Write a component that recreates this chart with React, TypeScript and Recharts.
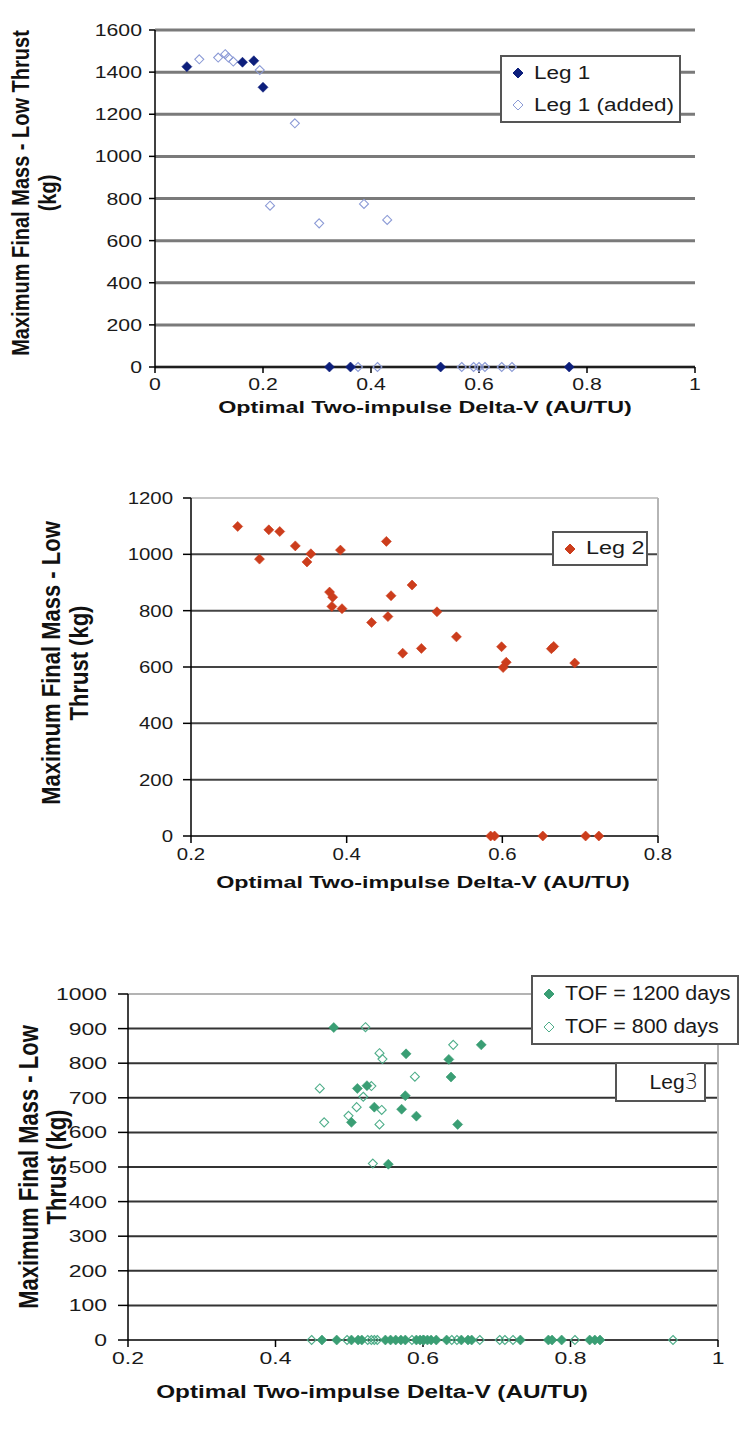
import React from 'react';
import { ScatterChart, Scatter, XAxis, YAxis, CartesianGrid, ReferenceLine } from 'recharts';

// Leg 1 (chart 1)
const leg1X = [0.059, 0.162, 0.183, 0.2, 0.323, 0.362, 0.529, 0.767];
const leg1Y = [1426, 1447, 1454, 1328, 0, 0, 0, 0];
const leg1AddedX = [0.082, 0.117, 0.13, 0.136, 0.145, 0.194, 0.259, 0.213, 0.304, 0.387, 0.43, 0.376, 0.412, 0.568, 0.59, 0.6, 0.611, 0.642, 0.661];
const leg1AddedY = [1461, 1469, 1485, 1469, 1450, 1410, 1157, 766, 682, 774, 698, 0, 0, 0, 0, 0, 0, 0, 0];

// Leg 2 (chart 2)
const leg2X = [0.26, 0.288, 0.3, 0.314, 0.334, 0.354, 0.349, 0.392, 0.451, 0.378, 0.382, 0.381, 0.394, 0.457, 0.484, 0.453, 0.432, 0.516, 0.541, 0.472, 0.496, 0.599, 0.605, 0.601, 0.663, 0.666, 0.693, 0.585, 0.59, 0.652, 0.707, 0.724];
const leg2Y = [1099, 983, 1087, 1081, 1030, 1002, 973, 1015, 1046, 866, 848, 815, 807, 853, 891, 779, 758, 796, 707, 649, 666, 672, 617, 598, 665, 673, 614, 0, 0, 0, 0, 0];

// Leg 3 (chart 3)
const tof1200X = [0.479, 0.679, 0.577, 0.635, 0.638, 0.511, 0.524, 0.576, 0.534, 0.571, 0.591, 0.503, 0.647, 0.553,
  0.463, 0.483, 0.503, 0.512, 0.517, 0.549, 0.556, 0.563, 0.57, 0.576, 0.591, 0.596, 0.601, 0.606, 0.611, 0.618, 0.632, 0.652, 0.661, 0.666, 0.732, 0.77, 0.775, 0.788, 0.826, 0.833, 0.84];
const tof1200Y = [903, 853, 827, 811, 760, 727, 735, 706, 673, 667, 647, 629, 623, 508,
  0, 0, 0, 0, 0, 0, 0, 0, 0, 0, 0, 0, 0, 0, 0, 0, 0, 0, 0, 0, 0, 0, 0, 0, 0, 0, 0];
const tof800X = [0.522, 0.641, 0.541, 0.545, 0.589, 0.46, 0.53, 0.519, 0.544, 0.51, 0.499, 0.466, 0.541, 0.532,
  0.449, 0.497, 0.525, 0.53, 0.534, 0.538, 0.585, 0.6, 0.639, 0.646, 0.677, 0.704, 0.711, 0.722, 0.806, 0.939];
const tof800Y = [904, 853, 829, 812, 761, 727, 734, 703, 665, 673, 648, 629, 623, 510,
  0, 0, 0, 0, 0, 0, 0, 0, 0, 0, 0, 0, 0, 0, 0, 0];

const ticks1X = [0, 0.2, 0.4, 0.6, 0.8, 1];
const ticks1Y = [0, 200, 400, 600, 800, 1000, 1200, 1400, 1600];
const ticks2X = [0.2, 0.4, 0.6, 0.8];
const ticks2Y = [0, 200, 400, 600, 800, 1000, 1200];
const ticks3X = [0.2, 0.4, 0.6, 0.8, 1];
const ticks3Y = [0, 100, 200, 300, 400, 500, 600, 700, 800, 900, 1000];

const xTitle = 'Optimal Two-impulse Delta-V (AU/TU)';
const FONT = '"Liberation Sans", Arial, sans-serif';

const zip = (xs: number[], ys: number[]) => xs.map((x, i) => ({ x, y: ys[i] }));

const diamond = (color: string, filled: boolean, r: number) => (props: any) => {
  const { cx, cy } = props;
  if (cx == null || cy == null) return <g />;
  return (
    <path
      d={`M${cx},${cy - r}L${cx + r},${cy}L${cx},${cy + r}L${cx - r},${cy}Z`}
      fill={filled ? color : 'none'}
      stroke={color}
      strokeWidth={filled ? 0.6 : 1.1}
    />
  );
};

const fmt = (v: number) => String(Math.round(v * 10) / 10);

const XTick = ({ x, y, payload, sx }: any) => (
  <text transform={`translate(${x},${y + 15}) scale(${sx},1)`} textAnchor="middle" fontSize={17} fontFamily={FONT} fill="#1a1a1a">
    {fmt(payload.value)}
  </text>
);

const YTick = ({ x, y, payload, sx, gap }: any) => (
  <text transform={`translate(${x - gap},${y + 6}) scale(${sx},1)`} textAnchor="end" fontSize={17} fontFamily={FONT} fill="#1a1a1a">
    {payload.value}
  </text>
);

const HText = ({ left, top, size, sx, children }: any) => (
  <div style={{ position: 'absolute', left, top, transform: `translate(-50%,-50%) scale(${sx},1)`, whiteSpace: 'nowrap', fontFamily: FONT, fontWeight: 'bold', fontSize: size, color: '#111' }}>
    {children}
  </div>
);

const VText = ({ left, top, size, sy, children }: any) => (
  <div style={{ position: 'absolute', left, top, transform: `translate(-50%,-50%) rotate(-90deg) scale(1,${sy})`, whiteSpace: 'nowrap', fontFamily: FONT, fontWeight: 'bold', fontSize: size, color: '#111' }}>
    {children}
  </div>
);

const LegendItem = ({ color, filled, label, sx }: any) => (
  <div style={{ display: 'flex', alignItems: 'center', height: 33 }}>
    <svg width={16} height={16} style={{ marginRight: 8, flex: 'none' }}>
      <path d="M8,3L13,8L8,13L3,8Z" fill={filled ? color : 'none'} stroke={color} strokeWidth={1} />
    </svg>
    <span style={{ display: 'inline-block', whiteSpace: 'nowrap', transform: `scale(${sx},1)`, transformOrigin: 'left center' }}>{label}</span>
  </div>
);

const boxStyle: React.CSSProperties = {
  position: 'absolute',
  background: '#fff',
  border: '2px solid #555',
  boxSizing: 'border-box',
  fontFamily: FONT,
  fontSize: 18,
  color: '#1a1a1a',
  paddingLeft: 8,
  display: 'flex',
  flexDirection: 'column',
  justifyContent: 'center',
};

const axisLine = { stroke: '#000', strokeWidth: 1.5 };

export default function App() {
  return (
    <div style={{ position: 'absolute', left: 0, top: 0, width: 740, height: 1430, background: '#fff', overflow: 'hidden' }}>
      {/* Chart 1 */}
      <div style={{ position: 'absolute', left: 0, top: 0 }}>
        <ScatterChart width={740} height={440} margin={{ top: 30, right: 45, bottom: 13, left: 0 }}>
          <CartesianGrid horizontal vertical={false} stroke="#7a7a7a" strokeWidth={3} />
          <XAxis type="number" dataKey="x" domain={[0, 1]} ticks={ticks1X} height={60} axisLine={axisLine} tickLine={axisLine} tickSize={6} tick={<XTick sx={1.25} />} />
          <YAxis type="number" dataKey="y" domain={[0, 1600]} ticks={ticks1Y} width={155} axisLine={axisLine} tickLine={axisLine} tickSize={6} tick={<YTick sx={1.25} gap={5} />} />
          <Scatter data={zip(leg1AddedX, leg1AddedY)} shape={diamond('#8c9bd6', false, 4.5)} isAnimationActive={false} />
          <Scatter data={zip(leg1X, leg1Y)} shape={diamond('#0d1f7c', true, 5)} isAnimationActive={false} />
        </ScatterChart>
        <VText left={21} top={193} size={20} sy={1.2}>Maximum Final Mass - Low Thrust</VText>
        <VText left={48} top={193} size={20} sy={1.2}>(kg)</VText>
        <HText left={425} top={408} size={17} sx={1.37}>{xTitle}</HText>
        <div style={{ ...boxStyle, left: 500, top: 55, width: 181, height: 68 }}>
          <LegendItem color="#0d1f7c" filled label="Leg 1" sx={1.25} />
          <LegendItem color="#8c9bd6" filled={false} label="Leg 1 (added)" sx={1.25} />
        </div>
      </div>

      {/* Chart 2 */}
      <div style={{ position: 'absolute', left: 0, top: 460 }}>
        <ScatterChart width={740} height={440} margin={{ top: 38, right: 82, bottom: 4, left: 0 }}>
          <CartesianGrid horizontal vertical={false} horizontalValues={[200, 400, 600, 800, 1000]} stroke="#444" strokeWidth={2} />
          <ReferenceLine y={1200} stroke="#b5b5b5" strokeWidth={1.5} />
          <ReferenceLine x={0.8} stroke="#b5b5b5" strokeWidth={2} />
          <XAxis type="number" dataKey="x" domain={[0.2, 0.8]} ticks={ticks2X} height={60} axisLine={axisLine} tickLine={axisLine} tickSize={7} tick={<XTick sx={1.2} />} />
          <YAxis type="number" dataKey="y" domain={[0, 1200]} ticks={ticks2Y} width={191} axisLine={axisLine} tickLine={axisLine} tickSize={8} tick={<YTick sx={1.2} gap={8} />} />
          <Scatter data={zip(leg2X, leg2Y)} shape={diamond('#cc3d1c', true, 5)} isAnimationActive={false} />
        </ScatterChart>
      </div>
      <VText left={52} top={663} size={22} sy={1.2}>Maximum Final Mass - Low</VText>
      <VText left={80} top={663} size={22} sy={1.2}>Thrust (kg)</VText>
      <HText left={423} top={883} size={17} sx={1.37}>{xTitle}</HText>
      <div style={{ ...boxStyle, left: 552, top: 531, width: 96, height: 35 }}>
        <LegendItem color="#cc3d1c" filled label="Leg 2" sx={1.3} />
      </div>

      {/* Chart 3 */}
      <div style={{ position: 'absolute', left: 0, top: 950 }}>
        <ScatterChart width={740} height={480} margin={{ top: 44, right: 22, bottom: 30, left: 0 }}>
          <CartesianGrid horizontal vertical={false} horizontalValues={[100, 200, 300, 400, 500, 600, 700, 800, 900]} stroke="#333" strokeWidth={2} />
          <ReferenceLine y={1000} stroke="#9a9a9a" strokeWidth={1.5} />
          <ReferenceLine x={1} stroke="#b5b5b5" strokeWidth={2} />
          <XAxis type="number" dataKey="x" domain={[0.2, 1]} ticks={ticks3X} height={60} axisLine={axisLine} tickLine={axisLine} tickSize={7} tick={<XTick sx={1.35} />} />
          <YAxis type="number" dataKey="y" domain={[0, 1000]} ticks={ticks3Y} width={128} axisLine={axisLine} tickLine={axisLine} tickSize={10} tick={<YTick sx={1.35} gap={9} />} />
          <Scatter data={zip(tof800X, tof800Y)} shape={diamond('#4fae8a', false, 4.5)} isAnimationActive={false} />
          <Scatter data={zip(tof1200X, tof1200Y)} shape={diamond('#3a9e74', true, 5)} isAnimationActive={false} />
        </ScatterChart>
      </div>
      <VText left={29} top={1167} size={22} sy={1.25}>Maximum Final Mass - Low</VText>
      <VText left={57} top={1167} size={22} sy={1.25}>Thrust (kg)</VText>
      <HText left={372} top={1392} size={18} sx={1.35}>{xTitle}</HText>
      <div style={{ ...boxStyle, left: 531, top: 975, width: 208, height: 70, fontSize: 20 }}>
        <LegendItem color="#3a9e74" filled label="TOF = 1200 days" sx={1.07} />
        <LegendItem color="#4fae8a" filled={false} label="TOF = 800 days" sx={1.07} />
      </div>
      <div style={{ ...boxStyle, left: 615, top: 1062, width: 91, height: 40, fontSize: 21, alignItems: 'flex-end', paddingRight: 6 }}>
        <span>Leg<span style={{ fontFamily: '"DejaVu Sans", sans-serif', fontWeight: 300 }}>3</span></span>
      </div>
    </div>
  );
}
